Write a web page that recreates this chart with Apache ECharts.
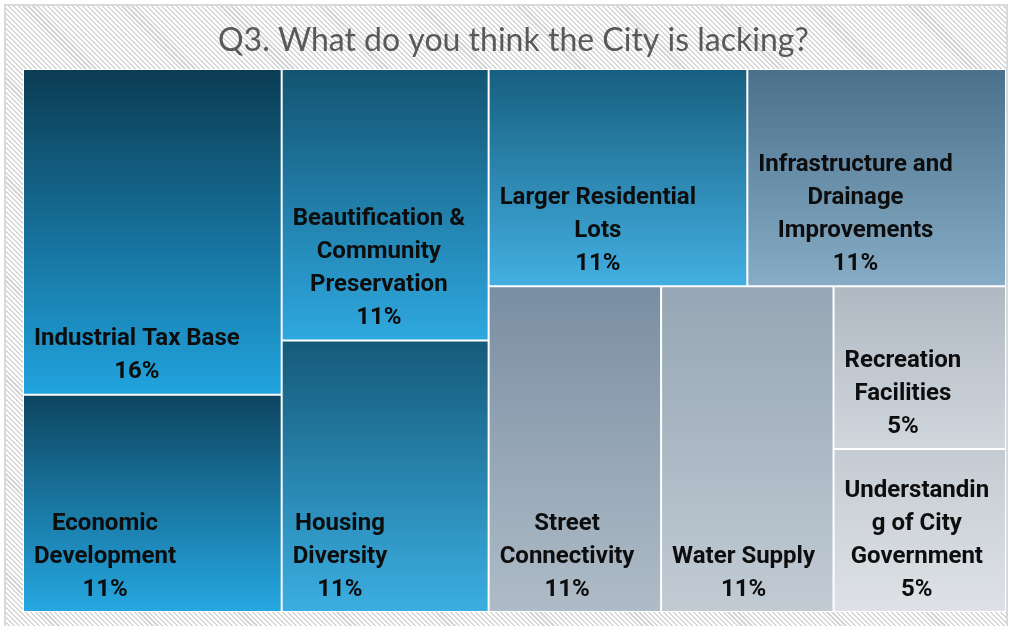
<!DOCTYPE html>
<html>
<head>
<meta charset="utf-8">
<script src="https://cdn.jsdelivr.net/npm/echarts@6/dist/echarts.min.js"></script>
<style>
html, body { margin: 0; padding: 0; background: #ffffff; overflow: hidden; }
#frame {
  position: absolute; left: 4px; top: 4px; width: 1000px; height: 660px;
  border: 2px solid #d9d9d9;
  background: repeating-linear-gradient(45deg, #ffffff 0px, #ffffff 2px, #d6d6d6 2px, #d6d6d6 3.5px);
}
#chart { position: absolute; left: 0; top: 0; width: 1010px; height: 626px; }
</style>
</head>
<body>
<div id="frame"></div>
<div id="chart"></div>
<script>
// ---- data ----
const titleText = 'Q3. What do you think the City is lacking?';
const categories = [
  'Industrial Tax Base',
  'Economic Development',
  'Beautification & Community Preservation',
  'Housing Diversity',
  'Larger Residential Lots',
  'Infrastructure and Drainage Improvements',
  'Street Connectivity',
  'Water Supply',
  'Recreation Facilities',
  'Understanding of City Government'
];
// label text as it wraps in the picture
const labelLines = [
  ['Industrial Tax Base'],
  ['Economic', 'Development'],
  ['Beautification &', 'Community', 'Preservation'],
  ['Housing', 'Diversity'],
  ['Larger Residential', 'Lots'],
  ['Infrastructure and', 'Drainage', 'Improvements'],
  ['Street', 'Connectivity'],
  ['Water Supply'],
  ['Recreation', 'Facilities'],
  ['Understandin', 'g of City', 'Government']
];
const values = [3, 2, 2, 2, 2, 2, 2, 2, 1, 1];
// grouping of category indices (tiles arrangement)
const groups = [[0, 1], [2, 3], [[4, 5], [6, 7, [8, 9]]]];

// ---- styles ----
const gradients = [
  ['#0b3c53', '#21a3de'],
  ['#0e4560', '#25a7e1'],
  ['#135472', '#2fa8df'],
  ['#155a7a', '#3baee1'],
  ['#175f80', '#43afe1'],
  ['#4a708c', '#87acc5'],
  ['#7a8ea3', '#afbcc7'],
  ['#96a6b4', '#c1cbd4'],
  ['#b0b9c3', '#d0d6dc'],
  ['#c4cbd2', '#dee2e6']
];
const LABEL_FONT_SIZE = 24;
const LABEL_FONT = 'Roboto';

const total = values.reduce((a, b) => a + b, 0);
const ctx = document.createElement('canvas').getContext('2d');
ctx.font = 'bold ' + LABEL_FONT_SIZE + 'px ' + LABEL_FONT;

function buildNode(g) {
  if (Array.isArray(g)) {
    return { name: '', children: g.map(buildNode) };
  }
  const i = g;
  const pct = Math.round(values[i] / total * 100) + '%';
  const lines = labelLines[i].concat([pct]);
  const blockW = Math.max.apply(null, lines.map(l => ctx.measureText(l).width));
  return {
    name: categories[i],
    value: values[i],
    itemStyle: {
      color: new echarts.graphic.LinearGradient(0, 0, 0, 1, [
        { offset: 0, color: gradients[i][0] },
        { offset: 1, color: gradients[i][1] }
      ]),
      borderWidth: 1,
      borderColor: '#ffffff'
    },
    label: {
      formatter: lines.join('\n'),
      position: [10 + blockW / 2, '100%'],
      offset: [0, -5]
    }
  };
}

const tree = groups.map(buildNode);

const chart = echarts.init(document.getElementById('chart'), null, { renderer: 'canvas' });
chart.setOption({
  backgroundColor: 'transparent',
  animation: false,
  title: {
    text: titleText,
    left: 218,
    top: 25,
    padding: 0,
    textStyle: { fontFamily: 'Lato', fontSize: 32, fontWeight: 'normal', color: '#595959' }
  },
  series: [{
    type: 'treemap',
    left: 23, top: 69, width: 983, height: 543,
    roam: false,
    nodeClick: false,
    silent: true,
    sort: false,
    squareRatio: 0.8,
    visibleMin: 0,
    drillDownIcon: '',
    breadcrumb: { show: false },
    itemStyle: { borderWidth: 0, gapWidth: 0, borderColor: '#ffffff' },
    upperLabel: { show: false },
    label: {
      show: true,
      align: 'center',
      verticalAlign: 'bottom',
      padding: 0,
      fontFamily: LABEL_FONT,
      fontWeight: 'bold',
      fontSize: LABEL_FONT_SIZE,
      lineHeight: 33,
      color: '#0d0d0d',
      overflow: 'none'
    },
    data: tree
  }]
});
</script>
</body>
</html>
